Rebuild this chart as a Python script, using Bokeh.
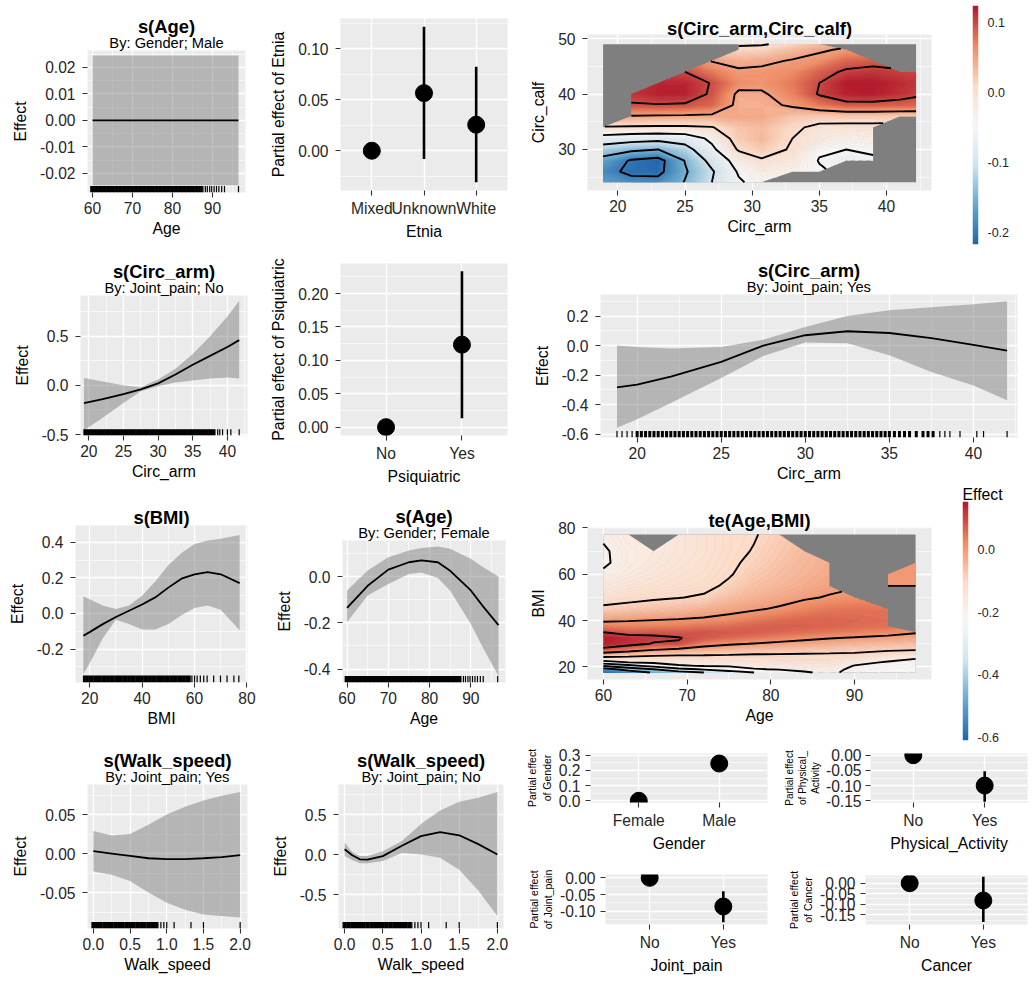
import numpy as np
from bokeh.plotting import figure
from bokeh.models import Range1d, FixedTicker, PrintfTickFormatter, Title, LinearColorMapper
from bokeh.layouts import row, column
from bokeh.embed import file_html
from bokeh.resources import INLINE

N = None

# ---------------- data ----------------
# s(Age), By: Gender; Male
age_m_x = [60.0, 96.5]
age_m_fit = [0.0, 0.0]
age_m_lo = [-0.0245, -0.0245]
age_m_hi = [0.0245, 0.0245]

# s(Age), By: Gender; Female
age_f_x = [60, 65, 70, 75, 78, 82, 85, 90, 93, 96.7]
age_f_fit = [-0.135, -0.04, 0.03, 0.062, 0.07, 0.062, 0.025, -0.06, -0.13, -0.21]
age_f_hi = [-0.06, 0.026, 0.084, 0.113, 0.124, 0.13, 0.12, 0.077, 0.04, 0.0]
age_f_lo = [-0.198, -0.082, -0.032, 0.011, 0.018, -0.006, -0.061, -0.205, -0.31, -0.43]

age_rug_dense = [60, 61, 62, 63, 64, 65, 66, 67, 68, 69, 70, 71, 72, 73, 74, 75, 76, 77,
                 78, 79, 80, 81, 82, 83, 84, 85, 86, 87]
age_rug_sparse = [87.6, 88.2, 88.7, 89.3, 89.8, 90.4, 91, 91.6, 92.3, 93, 96.5]

# Etnia
etnia_cats = ["Mixed", "Unknown", "White"]
etnia_est = [0.0, 0.0565, 0.0255]
etnia_lo = [0.0, -0.0082, -0.031]
etnia_hi = [0.0, 0.1216, 0.0824]

# Psiquiatric
psiq_cats = ["No", "Yes"]
psiq_est = [0.0, 0.1235]
psiq_lo = [0.0, 0.0135]
psiq_hi = [0.0, 0.2334]

# s(Circ_arm), By: Joint_pain; No
arm_no_x = [19.3, 22, 25, 27.5, 30, 32.5, 35, 37.5, 40, 41.7]
arm_no_fit = [-0.18, -0.14, -0.09, -0.04, 0.02, 0.11, 0.21, 0.3, 0.39, 0.46]
arm_no_hi = [0.075, 0.04, 0.0, -0.02, 0.06, 0.17, 0.32, 0.5, 0.7, 0.86]
arm_no_lo = [-0.46, -0.33, -0.18, -0.06, -0.01, 0.03, 0.05, 0.07, 0.08, 0.07]
arm_rug_no_dense = [19.5, 20, 20.5, 21, 21.5, 22, 22.5, 23, 23.5, 24, 24.5, 25, 25.5, 26,
                    26.5, 27, 27.5, 28, 28.5, 29, 29.5, 30, 30.5, 31, 31.5, 32, 32.5, 33,
                    33.5, 34, 34.5, 35, 35.5, 36, 36.5, 37, 37.5, 38]
arm_rug_no_sparse = [38.6, 38.9, 39.3, 40, 40.5, 41.7]

# s(Circ_arm), By: Joint_pain; Yes
arm_yes_x = [18.8, 20, 22, 25, 27.5, 30, 32.5, 35, 37.5, 40, 42]
arm_yes_fit = [-0.284, -0.265, -0.21, -0.11, 0.0, 0.07, 0.097, 0.085, 0.05, 0.005, -0.034]
arm_yes_hi = [0.0, -0.01, -0.02, -0.01, 0.04, 0.125, 0.2, 0.24, 0.26, 0.28, 0.3]
arm_yes_lo = [-0.557, -0.5, -0.39, -0.22, -0.07, 0.02, 0.015, -0.065, -0.18, -0.27, -0.37]
arm_rug_yes_dense = [20, 20.25, 20.5, 20.75, 21, 21.25, 21.5, 21.75, 22, 22.25, 22.5, 22.75,
                     23, 23.25, 23.5, 23.75, 24, 24.25, 24.5, 24.75, 25, 25.25, 25.5, 25.75,
                     26, 26.25, 26.5, 26.75, 27, 27.25, 27.5, 27.75, 28, 28.25, 28.5, 28.75,
                     29, 29.25, 29.5, 29.75, 30, 30.25, 30.5, 30.75, 31, 31.25, 31.5, 31.75,
                     32, 32.25, 32.5, 32.75, 33, 33.25, 33.5, 33.75, 34, 34.25, 34.5, 34.75,
                     35, 35.3, 35.6, 35.9, 36.2, 36.6, 37, 37.3, 37.6]
arm_rug_yes_sparse = [18.8, 19.1, 19.4, 19.7, 38, 38.3, 38.6, 39.2, 40.2, 40.6, 42]

# s(BMI)
bmi_x = [17.6, 20, 25, 30, 35, 40, 45, 50, 55, 60, 65, 70, 77.2]
bmi_fit = [-0.125, -0.105, -0.06, -0.02, 0.015, 0.05, 0.09, 0.145, 0.195, 0.22, 0.232, 0.22, 0.17]
bmi_hi = [0.095, 0.08, 0.045, 0.025, 0.045, 0.1, 0.18, 0.27, 0.34, 0.39, 0.41, 0.42, 0.44]
bmi_lo = [-0.34, -0.28, -0.14, -0.035, -0.06, -0.09, -0.09, -0.06, -0.01, 0.03, 0.045, 0.02, -0.095]
bmi_rug_dense = [18, 19, 20, 21, 22, 23, 24, 25, 26, 27, 28, 29, 30, 31, 32, 33, 34, 35, 36,
                 37, 38, 39, 40, 41, 42, 43, 44, 45, 46, 47, 48, 49, 50, 51, 52, 53, 54, 55,
                 56, 57, 58]
bmi_rug_sparse = [59, 60, 61, 62.2, 63.5, 64.8, 67.3, 69.9, 72.4, 75, 76.9]

# s(Walk_speed), By: Joint_pain; Yes
ws_yes_x = [0, 0.25, 0.5, 0.75, 1.0, 1.25, 1.5, 1.75, 2.0]
ws_yes_fit = [0.003, 0.0, -0.003, -0.006, -0.007, -0.007, -0.006, -0.0045, -0.002]
ws_yes_hi = [0.029, 0.023, 0.025, 0.037, 0.05, 0.06, 0.068, 0.074, 0.079]
ws_yes_lo = [-0.023, -0.027, -0.035, -0.05, -0.063, -0.072, -0.078, -0.08, -0.082]

# s(Walk_speed), By: Joint_pain; No
ws_no_x = [0, 0.1, 0.2, 0.3, 0.5, 0.75, 1.0, 1.25, 1.5, 1.75, 2.0]
ws_no_fit = [0.065, -0.01, -0.06, -0.065, -0.02, 0.11, 0.23, 0.28, 0.24, 0.13, 0.0]
ws_no_hi = [0.15, 0.03, -0.02, -0.02, 0.04, 0.17, 0.38, 0.55, 0.66, 0.71, 0.78]
ws_no_lo = [-0.02, -0.07, -0.11, -0.11, -0.08, 0.02, 0.0, -0.04, -0.19, -0.45, -0.77]

ws_rug_dense = [0.0, 0.05, 0.1, 0.15, 0.2, 0.25, 0.3, 0.35, 0.4, 0.45, 0.5, 0.55, 0.6, 0.65,
                0.7, 0.75, 0.8, 0.85]
ws_rug_sparse = [0.88, 0.92, 0.96, 1.0, 1.1, 1.33, 1.5, 2.0]

# parametric terms
gender_cats = ["Female", "Male"]
gender_est = [0.0, 0.245]
gender_lo = [0.0, 0.2]
gender_hi = [0.0, 0.29]

pa_cats = ["No", "Yes"]
pa_est = [0.0, -0.10]
pa_lo = [0.0, -0.153]
pa_hi = [0.0, -0.053]

jp_cats = ["No", "Yes"]
jp_est = [0.0, -0.086]
jp_lo = [0.0, -0.133]
jp_hi = [0.0, -0.04]

cancer_cats = ["No", "Yes"]
cancer_est = [0.0, -0.082]
cancer_lo = [0.0, -0.184]
cancer_hi = [0.0, 0.03]

# s(Circ_arm, Circ_calf): grid (None = too far from data)
cc_arm = [18.9, 21, 23, 25, 27, 29, 30.7, 33, 35, 37, 39, 41, 42.2]
cc_calf = [24.1, 26, 28, 30, 32, 34, 36, 38, 40, 42, 44, 46, 48, 49]
cc_z = [
    [-0.17, -0.185, -0.185, -0.148, -0.1, -0.055, -0.035, N, N, N, N, N, N],
    [-0.185, -0.21, -0.212, -0.155, -0.105, -0.045, -0.025, -0.03, -0.045, N, N, N, N],
    [-0.165, -0.205, -0.217, -0.148, -0.085, -0.03, -0.005, -0.02, -0.052, -0.065, -0.055, N, N],
    [-0.125, -0.14, -0.15, -0.118, -0.06, 0.005, 0.02, -0.005, -0.045, -0.05, -0.045, N, N],
    [-0.07, -0.08, -0.085, -0.078, -0.04, 0.02, 0.035, 0.0, -0.02, -0.03, -0.025, N, N],
    [-0.003, -0.005, -0.006, -0.006, -0.002, 0.025, 0.032, 0.008, -0.01, -0.012, -0.012, N, N],
    [N, 0.048, 0.046, 0.045, 0.043, 0.045, 0.045, 0.025, 0.02, 0.022, 0.022, 0.02, 0.02],
    [N, 0.097, 0.098, 0.096, 0.085, 0.04, 0.04, 0.055, 0.075, 0.09, 0.09, 0.088, 0.086],
    [N, 0.11, 0.12, 0.12, 0.095, 0.042, 0.045, 0.07, 0.103, 0.12, 0.122, 0.112, 0.105],
    [N, N, 0.118, 0.118, 0.098, 0.065, 0.06, 0.075, 0.1, 0.123, 0.124, 0.115, 0.11],
    [N, N, N, 0.1, 0.075, 0.055, 0.058, 0.065, 0.088, 0.105, 0.11, 0.105, 0.102],
    [N, N, N, N, 0.048, 0.04, 0.042, 0.053, 0.062, 0.085, 0.09, N, N],
    [N, N, N, N, N, 0.01, 0.012, 0.03, 0.045, 0.055, N, N, N],
    [N, N, N, N, N, -0.005, -0.003, 0.01, 0.03, N, N, N, N],
]
cc_levels = [-0.2, -0.15, -0.1, -0.05, 0.0, 0.05, 0.1]
cc_bar_ticks = [-0.2, -0.1, 0.0, 0.1]

# te(Age, BMI): grid, one list per Age column (None = too far from data)
te_age = [60, 63, 66, 69, 72, 75, 78, 81, 84, 87, 90, 94, 97.3]
te_bmi = [17.6, 19, 20.5, 22, 23.5, 25, 27.5, 30, 32.5, 35, 37.5, 40, 45, 50, 55, 60, 65, 70, 77.2]
te_cols = [
    [-0.61, -0.54, -0.39, -0.245, -0.14, -0.065, 0.08, 0.145, 0.153, 0.1, 0.04, -0.01, -0.085, -0.13, -0.16, -0.19, -0.21, -0.208, -0.19],
    [-0.56, -0.46, -0.33, -0.2, -0.135, -0.08, 0.04, 0.125, 0.13, 0.075, 0.03, -0.003, -0.075, -0.12, -0.145, -0.165, -0.175, -0.175, -0.165],
    [-0.49, -0.4, -0.27, -0.185, -0.13, -0.095, 0.005, 0.095, 0.115, 0.08, 0.035, 0.003, -0.065, -0.11, -0.135, -0.15, -0.16, -0.165, N],
    [-0.44, -0.33, -0.21, -0.17, -0.125, -0.1, -0.015, 0.095, 0.103, 0.08, 0.04, 0.008, -0.055, -0.102, -0.125, -0.135, -0.145, -0.15, -0.15],
    [-0.4, -0.29, -0.195, -0.16, -0.125, -0.102, -0.035, 0.03, 0.08, 0.085, 0.05, 0.015, -0.04, -0.093, -0.115, -0.125, -0.13, -0.135, -0.135],
    [-0.35, -0.25, -0.19, -0.155, -0.125, -0.105, -0.05, 0.01, 0.06, 0.08, 0.06, 0.025, -0.02, -0.06, -0.09, -0.105, -0.11, -0.115, -0.115],
    [-0.3, -0.205, -0.18, -0.15, -0.125, -0.11, -0.06, -0.003, 0.045, 0.075, 0.07, 0.045, -0.007, -0.04, -0.06, -0.075, -0.088, -0.097, -0.104],
    [-0.245, -0.195, -0.17, -0.145, -0.125, -0.11, -0.065, -0.015, 0.03, 0.065, 0.075, 0.06, 0.008, -0.025, -0.045, -0.055, -0.065, -0.072, -0.08],
    [-0.205, -0.19, -0.165, -0.14, -0.125, -0.112, -0.07, -0.025, 0.015, 0.055, 0.072, 0.068, 0.03, -0.008, -0.03, -0.04, -0.045, -0.05, N],
    [-0.19, -0.185, -0.165, -0.14, -0.125, -0.113, -0.075, -0.035, 0.003, 0.045, 0.068, 0.07, 0.045, 0.005, -0.015, -0.025, -0.03, N, N],
    [-0.215, -0.21, -0.203, -0.18, -0.14, -0.115, -0.08, -0.045, -0.005, 0.035, 0.06, 0.065, 0.05, 0.015, N, N, N, N, N],
    [-0.225, -0.222, -0.215, -0.207, -0.18, -0.135, -0.09, -0.055, -0.018, 0.025, 0.05, 0.058, 0.05, N, 0.0, 0.005, N, N, N],
    [-0.23, -0.228, -0.222, -0.213, -0.2, -0.15, -0.095, -0.06, -0.025, 0.005, N, N, N, N, 0.0, 0.005, 0.0, N, N],
]
te_levels = [-0.5, -0.4, -0.3, -0.2, -0.1, 0.0, 0.1]
te_bar_ticks = [-0.6, -0.4, -0.2, 0.0]

# ---------------- style ----------------
FONT = "Liberation Sans"
BG = "#EBEBEB"
MASK = "#7F7F7F"
RIB = "#7F7F7F"
RDBU7 = ["#2166ac", "#67a9cf", "#d1e5f0", "#f7f7f7", "#fddbc7", "#ef8a62", "#b2182b"]
TICK_FS = "15.6px"
LAB_FS = "15.8px"
TITLE_FS = "18.4px"
SUB_FS = "14.7px"
BAR_FS = "12.5px"
W_MAX = 1032
H_MAX = 984


def sc(v):
    return int(round(min(v, W_MAX)))


def scy(v):
    return int(round(min(v, H_MAX)))


def ramp(t):
    t = min(max(t, 0.0), 1.0)
    pos = t * (len(RDBU7) - 1)
    i = min(int(pos), len(RDBU7) - 2)
    f = pos - i
    a = [int(RDBU7[i][k:k + 2], 16) for k in (1, 3, 5)]
    b = [int(RDBU7[i + 1][k:k + 2], 16) for k in (1, 3, 5)]
    return "#%02x%02x%02x" % tuple(int(round(u + (w - u) * f)) for u, w in zip(a, b))


PAL256 = [ramp(i / 255.0) for i in range(256)]


def panel(cell, frame, xr, yr, **kw):
    cx0, cy0, cx1, cy1 = cell
    fx0, fy0, fx1, fy1 = frame
    p = figure(width=sc(cx1) - sc(cx0), height=scy(cy1) - scy(cy0),
               x_range=Range1d(*xr), y_range=Range1d(*yr),
               min_border_left=sc(fx0) - sc(cx0), min_border_right=sc(cx1) - sc(fx1),
               min_border_top=scy(fy0) - scy(cy0), min_border_bottom=scy(cy1) - scy(fy1),
               toolbar_location=None, output_backend="svg", title=None,
               background_fill_color=BG, border_fill_color="white",
               outline_line_color=None, **kw)
    return p


def style(p, xt, xm, xfmt, yt, ym, yfmt, xlabel, ylabel, xover=None,
          ylab_fs=LAB_FS, ystand=(7, 8)):
    xtk = FixedTicker(ticks=xt, minor_ticks=xm)
    ytk = FixedTicker(ticks=yt, minor_ticks=ym)
    p.xaxis.ticker = xtk
    p.yaxis.ticker = ytk
    p.xgrid.ticker = xtk
    p.ygrid.ticker = ytk
    if xfmt:
        p.xaxis.formatter = PrintfTickFormatter(format=xfmt)
    if yfmt:
        p.yaxis.formatter = PrintfTickFormatter(format=yfmt)
    if xover:
        p.xaxis.major_label_overrides = xover
    p.xaxis.axis_label = xlabel
    p.yaxis.axis_label = ylabel
    for ax in list(p.xaxis) + list(p.yaxis):
        ax.axis_line_color = None
        ax.major_tick_line_color = "#333333"
        ax.major_tick_line_width = 1.1
        ax.major_tick_in = 0
        ax.major_tick_out = 5
        ax.minor_tick_line_color = None
        ax.major_label_text_font = FONT
        ax.major_label_text_font_size = TICK_FS
        ax.major_label_text_color = "#262626"
        ax.axis_label_text_font = FONT
        ax.axis_label_text_font_size = LAB_FS
        ax.axis_label_text_font_style = "normal"
        ax.axis_label_text_color = "black"
    p.yaxis.axis_label_text_font_size = ylab_fs
    p.xaxis.major_label_standoff = 4
    p.xaxis.axis_label_standoff = 3
    p.yaxis.major_label_standoff = ystand[0]
    p.yaxis.axis_label_standoff = ystand[1]
    for g, mm in ((p.xgrid, xm), (p.ygrid, ym)):
        g.grid_line_color = "white"
        g.grid_line_width = 1.3
        g.minor_grid_line_color = "white" if mm else None
        g.minor_grid_line_width = 0.6


def add_titles(p, title, subtitle, standoff=0):
    if subtitle:
        p.add_layout(Title(text=subtitle, align="center", text_font=FONT,
                           text_font_size=SUB_FS, text_font_style="normal",
                           text_color="black", standoff=0), "above")
    if title:
        p.add_layout(Title(text=title, align="center", text_font=FONT,
                           text_font_size=TITLE_FS, text_font_style="bold",
                           text_color="black", standoff=standoff), "above")


def smooth_panel(cell, frame, xr, yr, x, fit, lo, hi, rug_d, rug_s, dense_w,
                 xt, xm, xfmt, yt, ym, yfmt, xlabel, title, subtitle=None, tstand=-9):
    p = panel(cell, frame, xr, yr)
    style(p, xt, xm, xfmt, yt, ym, yfmt, xlabel, "Effect")
    p.varea(x=x, y1=lo, y2=hi, fill_color=RIB, fill_alpha=0.5)
    p.line(x, fit, line_color="black", line_width=1.8)
    y0 = yr[0]
    y1 = yr[0] + 0.045 * (yr[1] - yr[0])
    p.segment(x0=rug_d, x1=rug_d, y0=[y0] * len(rug_d), y1=[y1] * len(rug_d),
              line_color="black", line_width=dense_w)
    p.segment(x0=rug_s, x1=rug_s, y0=[y0] * len(rug_s), y1=[y1] * len(rug_s),
              line_color="black", line_width=1.2)
    add_titles(p, title, subtitle, tstand)
    return p


def cat_panel(cell, frame, yr, cats, est, lo, hi, yt, ym, yfmt, xlabel, ylabel,
              ylab_fs=LAB_FS, ystand=(7, 8)):
    xs = [i + 1 for i in range(len(cats))]
    p = panel(cell, frame, (0.4, len(cats) + 0.6), yr)
    style(p, xs, [], None, yt, ym, yfmt, xlabel, ylabel,
          xover={x: c for x, c in zip(xs, cats)}, ylab_fs=ylab_fs, ystand=ystand)
    p.segment(x0=xs, x1=xs, y0=lo, y1=hi, line_color="black", line_width=2.6)
    p.scatter(xs, est, size=17, color="black")
    return p


def heat_panel(cell, frame, xr, yr, gx, gy, z, line_levels, xt, xm, yt, ym,
               xlabel, ylabel, title, tstand):
    p = panel(cell, frame, xr, yr)
    style(p, xt, xm, None, yt, ym, None, xlabel, ylabel)
    vmin = float(np.nanmin(z))
    vmax = float(np.nanmax(z))
    p.quad(left=[gx[0]], right=[gx[-1]], bottom=[gy[0]], top=[gy[-1]],
           fill_color=MASK, line_color=None)
    lv = list(np.linspace(vmin - 1e-6, vmax + 1e-6, 121))
    fills = [ramp(((a + b) / 2 - vmin) / (vmax - vmin)) for a, b in zip(lv[:-1], lv[1:])]
    lcols = [ramp((v - vmin) / (vmax - vmin)) for v in lv]
    p.contour(gx, gy, z, levels=lv, fill_color=fills, line_color=lcols, line_width=0.9)
    p.contour(gx, gy, z, levels=line_levels, line_color="black", line_width=1.9)
    add_titles(p, title, None, tstand)
    return p, vmin, vmax


def color_bar(cell, frame, vmin, vmax, ticks, title=None):
    p = panel(cell, frame, (0, 1), (vmin, vmax), x_axis_location=None,
              y_axis_location="right")
    p.background_fill_color = "white"
    p.grid.visible = False
    mapper = LinearColorMapper(palette=PAL256, low=vmin, high=vmax)
    grad = np.linspace(vmin, vmax, 256).reshape(-1, 1)
    p.image(image=[grad], x=0, y=vmin, dw=1, dh=vmax - vmin, color_mapper=mapper)
    ax = p.yaxis[0]
    ax.ticker = FixedTicker(ticks=ticks)
    ax.formatter = PrintfTickFormatter(format="%.1f")
    ax.axis_line_color = None
    ax.major_tick_line_color = None
    ax.minor_tick_line_color = None
    ax.major_tick_out = 0
    ax.major_tick_in = 0
    ax.major_label_standoff = 9
    ax.major_label_text_font = FONT
    ax.major_label_text_font_size = BAR_FS
    ax.major_label_text_color = "#262626"
    if title:
        p.add_layout(Title(text=title, align="left", text_font=FONT,
                           text_font_size=LAB_FS, text_font_style="normal",
                           text_color="black", standoff=-3), "above")
    return p


def box(p):
    # wrap a figure on its own so that a row does not line up its frame with its neighbours
    return column(p)


# ---------------- panels ----------------
pA = smooth_panel((0, 0, 258, 245), (87, 50, 245, 192), (58.75, 98.25), (-0.0272, 0.0264),
                  age_m_x, age_m_fit, age_m_lo, age_m_hi, age_rug_dense, age_rug_sparse, 4.6,
                  [60, 70, 80, 90], [65, 75, 85, 95], None,
                  [-0.02, -0.01, 0.0, 0.01, 0.02], [-0.025, -0.015, -0.005, 0.005, 0.015, 0.025], "%.2f",
                  "Age", "s(Age)", "By: Gender; Male")

pB = cat_panel((258, 0, 520, 245), (340, 18, 507, 190), (-0.039, 0.1297),
               etnia_cats, etnia_est, etnia_lo, etnia_hi,
               [0.0, 0.05, 0.1], [-0.025, 0.025, 0.075, 0.125], "%.2f", "Etnia", "Partial effect of Etnia")

cc_zarr = np.array(cc_z, dtype=float)
pC, cc_min, cc_max = heat_panel((520, 0, 952, 245), (587, 34, 931, 190), (17.74, 43.35), (22.6, 50.75),
                                cc_arm, cc_calf, cc_zarr, cc_levels,
                                [20, 25, 30, 35, 40], [22.5, 27.5, 32.5, 37.5, 42.5],
                                [30, 40, 50], [25, 35, 45], "Circ_arm", "Circ_calf",
                                "s(Circ_arm,Circ_calf)", -8)
pCB1 = color_bar((952, 0, 1033, 245), (971.7, 5, 978.3, 244), cc_min, cc_max, cc_bar_ticks)

pD = smooth_panel((0, 245, 258, 490), (80, 295, 246.7, 435), (18.8, 42.9), (-0.51, 0.914),
                  arm_no_x, arm_no_fit, arm_no_lo, arm_no_hi, arm_rug_no_dense, arm_rug_no_sparse, 4.0,
                  [20, 25, 30, 35, 40], [22.5, 27.5, 32.5, 37.5, 42.5], None,
                  [-0.5, 0.0, 0.5], [-0.25, 0.25, 0.75], "%.1f",
                  "Circ_arm", "s(Circ_arm)", "By: Joint_pain; No")

pE = cat_panel((258, 245, 520, 490), (340, 263.3, 506.7, 435), (-0.0125, 0.245),
               psiq_cats, psiq_est, psiq_lo, psiq_hi,
               [0.0, 0.05, 0.1, 0.15, 0.2], [0.025, 0.075, 0.125, 0.175, 0.225], "%.2f",
               "Psiquiatric", "Partial effect of Psiquiatric")

pF = smooth_panel((520, 245, 1033, 485), (600, 294.3, 1016.7, 436.7), (17.82, 42.62), (-0.623, 0.346),
                  arm_yes_x, arm_yes_fit, arm_yes_lo, arm_yes_hi, arm_rug_yes_dense, arm_rug_yes_sparse, 3.0,
                  [20, 25, 30, 35, 40], [22.5, 27.5, 32.5, 37.5, 42.5], None,
                  [-0.6, -0.4, -0.2, 0.0, 0.2], [-0.5, -0.3, -0.1, 0.1, 0.3], "%.1f",
                  "Circ_arm", "s(Circ_arm)", "By: Joint_pain; Yes")

pG = smooth_panel((0, 490, 258, 735), (75, 525, 246.7, 681.7), (14.6, 80.2), (-0.388, 0.494),
                  bmi_x, bmi_fit, bmi_lo, bmi_hi, bmi_rug_dense, bmi_rug_sparse, 3.0,
                  [20, 40, 60, 80], [30, 50, 70], None,
                  [-0.2, 0.0, 0.2, 0.4], [-0.3, -0.1, 0.1, 0.3], "%.1f",
                  "BMI", "s(BMI)", None, -5)

pH = smooth_panel((258, 490, 520, 735), (341.7, 540, 505, 681.7), (58.9, 98.4), (-0.458, 0.156),
                  age_f_x, age_f_fit, age_f_lo, age_f_hi, age_rug_dense, age_rug_sparse, 4.8,
                  [60, 70, 80, 90], [65, 75, 85, 95], None,
                  [-0.4, -0.2, 0.0], [-0.3, -0.1, 0.1], "%.1f",
                  "Age", "s(Age)", "By: Gender; Female")

te_zarr = np.array(te_cols, dtype=float).T
pI, te_min, te_max = heat_panel((520, 485, 952, 745), (586.7, 527, 931, 679.3), (58.1, 99.2), (14.6, 80.2),
                                te_age, te_bmi, te_zarr, te_levels,
                                [60, 70, 80, 90], [65, 75, 85, 95],
                                [20, 40, 60, 80], [30, 50, 70], "Age", "BMI", "te(Age,BMI)", -6)
pCB2 = color_bar((952, 485, 1033, 745), (962, 497, 968.5, 740), te_min, te_max, te_bar_ticks, "Effect")

pJ = smooth_panel((0, 735, 258, 985), (86.7, 784.3, 246.7, 928.3), (-0.08, 2.1), (-0.096, 0.0885),
                  ws_yes_x, ws_yes_fit, ws_yes_lo, ws_yes_hi, ws_rug_dense, ws_rug_sparse, 4.0,
                  [0, 0.5, 1.0, 1.5, 2.0], [0.25, 0.75, 1.25, 1.75], "%.1f",
                  [-0.05, 0.0, 0.05], [-0.075, -0.025, 0.025, 0.075], "%.2f",
                  "Walk_speed", "s(Walk_speed)", "By: Joint_pain; Yes")

pK = smooth_panel((258, 735, 520, 985), (338.3, 784.3, 503.3, 928.3), (-0.08, 2.08), (-0.925, 0.875),
                  ws_no_x, ws_no_fit, ws_no_lo, ws_no_hi, ws_rug_dense, ws_rug_sparse, 4.2,
                  [0, 0.5, 1.0, 1.5, 2.0], [0.25, 0.75, 1.25, 1.75], "%.1f",
                  [-0.5, 0.0, 0.5], [-0.75, -0.25, 0.25, 0.75], "%.1f",
                  "Walk_speed", "s(Walk_speed)", "By: Joint_pain; No")

SMALL_LAB = "10.5px"
pGen = cat_panel((520, 745, 780, 865), (590, 753.3, 766.7, 801.7), (-0.011, 0.311),
                 gender_cats, gender_est, gender_lo, gender_hi,
                 [0.0, 0.1, 0.2, 0.3], [0.05, 0.15, 0.25], "%.1f", "Gender",
                 "Partial effect\nof Gender", ylab_fs=SMALL_LAB, ystand=(5, 3))
pPA = cat_panel((780, 745, 1033, 865), (865, 753.3, 1027, 801.7), (-0.1557, 0.0057),
                pa_cats, pa_est, pa_lo, pa_hi,
                [-0.15, -0.1, -0.05, 0.0], [-0.125, -0.075, -0.025], "%.2f",
                "Physical_Activity", "Partial effect\nof Physical_\nActivity",
                ylab_fs="10px", ystand=(4, 2))
pJP = cat_panel((520, 865, 780, 985), (605, 874, 767, 924), (-0.14, 0.01),
                jp_cats, jp_est, jp_lo, jp_hi,
                [-0.1, -0.05, 0.0], [-0.125, -0.075, -0.025], "%.2f",
                "Joint_pain", "Partial effect\nof Joint_pain", ylab_fs=SMALL_LAB, ystand=(5, 3))
pCan = cat_panel((780, 865, 1033, 985), (865, 875, 1027, 924), (-0.196, 0.0365),
                 cancer_cats, cancer_est, cancer_lo, cancer_hi,
                 [-0.15, -0.1, -0.05, 0.0], [-0.175, -0.125, -0.075, -0.025, 0.025], "%.2f",
                 "Cancer", "Partial effect\nof Cancer", ylab_fs=SMALL_LAB, ystand=(5, 3))

left = column(row(box(pA), box(pB)), row(box(pD), box(pE)),
              row(box(pG), box(pH)), row(box(pJ), box(pK)))
right = column(row(box(pC), box(pCB1)), box(pF), row(box(pI), box(pCB2)),
               row(box(pGen), box(pPA)), row(box(pJP), box(pCan)))
layout = row(left, right)

open("out.html", "w").write(file_html(layout, INLINE))
